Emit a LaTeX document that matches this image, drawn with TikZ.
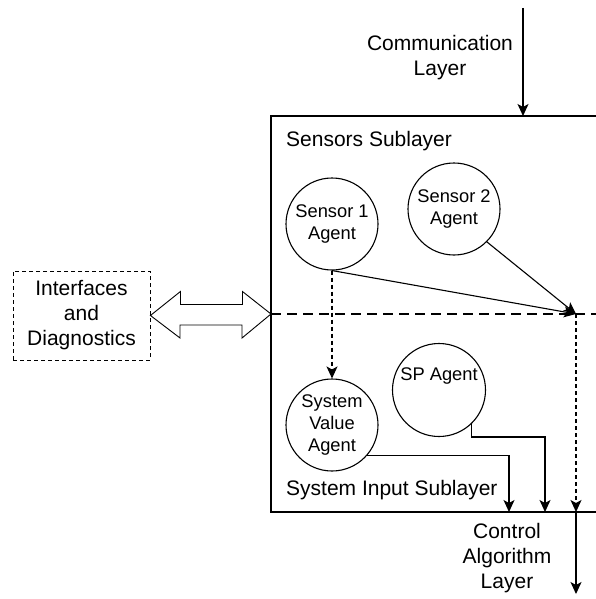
\documentclass[tikz,border=0pt]{standalone}
\usepackage{fontspec}
\setmainfont{Liberation Sans}
\usetikzlibrary{arrows.meta,calc}
\tikzset{
  ln/.style={line width=1.1pt},
  tip/.style={-{Stealth[length=12pt,width=11pt,inset=3pt]}},
  agent/.style={circle,draw,ln,minimum size=92pt,inner sep=0pt,align=center,font=\fontsize{18.3}{22}\selectfont},
  lbl/.style={align=center,inner sep=0pt,font=\fontsize{21}{25}\selectfont},
  thindash/.style={line width=1.1pt,dash pattern=on 4pt off 3pt},
}
\begin{document}
\begin{tikzpicture}[x=1pt,y=-1pt]
\useasboundingbox (0,0) rectangle (595,599);
% main layer frame (open on the right)
\draw[ln] (600,116) -- (271,116) -- (271,512) -- (600,512);
% labels
\node[lbl] (comm) at (440,58) {Communication\\Layer};
\node[lbl,anchor=west] (sens) at (286,141) {Sensors Sublayer};
\node[lbl,anchor=west] (sis) at (286,490) {System Input Sublayer};
\node[lbl] (ctrl) at (507,558) {Control\\Algorithm\\Layer};
% agents
\node[agent] (s1) at (332,224) {Sensor 1\\Agent};
\node[agent] (s2) at (454,209) {Sensor 2\\Agent};
\node[agent] (sva) at (332,425) {System\\Value\\Agent};
\node[agent,minimum size=93pt] (sp) at (439,390) {};
\node[font=\fontsize{18.3}{22}\selectfont,inner sep=0pt] (spl) at (439,376) {SP Agent};
% interfaces
\node[draw,thindash,line width=0.9pt,minimum width=137pt,minimum height=89pt,lbl] (ifd) at (81.5,315.5) {Interfaces\\and\\Diagnostics};
% coordinates
\coordinate (ctop) at (523,8);
\coordinate (cin) at (523,116);
\coordinate (bl) at (271,314);
\coordinate (br) at (600,314);
\coordinate (J) at (576,314);
\coordinate (in1) at (509,512);
\coordinate (spb) at (545,437);
\coordinate (in2) at (545,512);
\coordinate (in3) at (576,512);
\coordinate (out) at (576,594);
% bus line
\draw[line width=2.6pt,dash pattern=on 10pt off 6pt] (bl) -- (br);
% double block arrow
\draw[line width=0.9pt,fill=white] (ifd.east) -- ++(30,-24) -- ++(0,13) -- ++(62,0) -- ++(0,-13) -- (bl) -- ++(-29,24) -- ++(0,-13) -- ++(-62,0) -- ++(0,13) -- cycle;
% connectors
\draw[ln,tip] (ctop) -- (cin);
\draw[ln,tip] (s1.south) -- (J);
\draw[ln,tip] (s2.-45) -- (J);
\draw[thindash,tip] (s1.south) -- (sva.north);
\draw[thindash,tip] (J) -- (in3);
\draw[ln,tip] (in3) -- (out);
\draw[ln,tip] (sva.-41) -| (in1);
\draw[ln,tip] (sp.-46) |- (spb) -- (in2);
\end{tikzpicture}
\end{document}
